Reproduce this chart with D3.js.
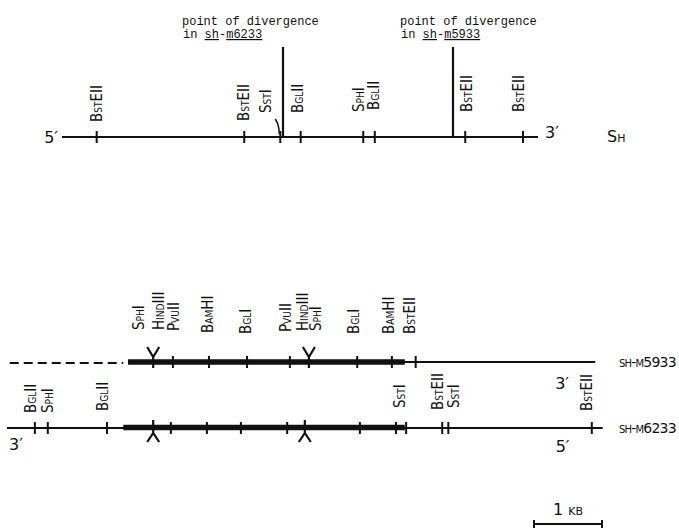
<!DOCTYPE html>
<html>
<head>
<meta charset="utf-8">
<script src="https://cdn.jsdelivr.net/npm/d3@7"></script>
<style>
  body { margin: 0; background: #fff; }
  svg { display: block; }
  .site { font-family: "DejaVu Sans", sans-serif; font-size: 16px; font-variant: small-caps; fill: #111; }
  .end { font-family: "DejaVu Sans", sans-serif; font-size: 16px; fill: #111; }
  .name { font-family: "DejaVu Sans", sans-serif; font-size: 14px; font-variant: small-caps; fill: #111; letter-spacing: -0.8px; }
  .mono { font-family: "Liberation Mono", monospace; font-size: 12px; fill: #111; }
</style>
</head>
<body>
<svg id="map" width="679" height="530"></svg>
<script>
// restriction sites, positions in kb from the left end of each map
const shSites = [
  { enzyme: "BstEII", kb: 0.51 },
  { enzyme: "BstEII", kb: 2.68 },
  { enzyme: "SstI", kb: 3.21 },
  { enzyme: "BglII", kb: 3.51 },
  { enzyme: "SphI", kb: 4.43 },
  { enzyme: "BglII", kb: 4.60 },
  { enzyme: "BstEII", kb: 5.93 },
  { enzyme: "BstEII", kb: 6.78 }
];
const shLength = 7.0;
const divergence = [
  { allele: "m6233", kb: 3.25 },
  { allele: "m5933", kb: 5.75 }
];

const m5933Sites = [
  { enzyme: "SphI", kb: 2.15 },
  { enzyme: "HindIII", kb: 2.15 },
  { enzyme: "PvuII", kb: 2.44 },
  { enzyme: "BamHI", kb: 2.97 },
  { enzyme: "BglI", kb: 3.53 },
  { enzyme: "PvuII", kb: 4.16 },
  { enzyme: "HindIII", kb: 4.44 },
  { enzyme: "SphI", kb: 4.44 },
  { enzyme: "BglI", kb: 5.15 },
  { enzyme: "BamHI", kb: 5.66 },
  { enzyme: "BstEII", kb: 6.01 }
];
const m5933Dashed = [0.04, 1.71];
const m5933Thick = [1.78, 5.85];
const m5933End = 8.65;
const m5933Junctions = [2.15, 4.44];

const m6233Sites = [
  { enzyme: "BglII", kb: 0.41, label: true },
  { enzyme: "SphI", kb: 0.60, label: true },
  { enzyme: "BglII", kb: 1.47, label: true },
  { enzyme: "SphI", kb: 2.15, label: false },
  { enzyme: "PvuII", kb: 2.41, label: false },
  { enzyme: "BamHI", kb: 2.94, label: false },
  { enzyme: "BglI", kb: 3.44, label: false },
  { enzyme: "PvuII", kb: 4.12, label: false },
  { enzyme: "SphI", kb: 4.38, label: false },
  { enzyme: "BglI", kb: 5.19, label: false },
  { enzyme: "BamHI", kb: 5.72, label: false },
  { enzyme: "SstI", kb: 5.87, label: true },
  { enzyme: "BstEII", kb: 6.40, label: true },
  { enzyme: "SstI", kb: 6.49, label: true },
  { enzyme: "BstEII", kb: 8.60, label: true }
];
const m6233Line = [0, 8.76];
const m6233Thick = [1.71, 5.85];
const m6233Junctions = [2.15, 4.38];

const scaleBarKb = 1;

// label nudges in px [dx, lift above the default gap]
const shNudge = [[0, -9], [-1, -8], [-15, 0], [-3, 0], [-5, 1], [-2, 3], [1, 1], [-5, 1]];
const m5933Nudge = [[-15, 4], [5, 4], [0, 3], [-2, 1], [-2, 0], [-5, 2], [-7, 3], [6, 3], [-4, 0], [-4, 0], [-6, 0]];
const m6233Nudge = [[-5, 0], [-1, 0], [-5, 2], [], [], [], [], [], [], [], [], [-7, 5], [-5, 3], [5, 5], [-6, 2]];
const divTextDx = [-101, -53];

const svg = d3.select("#map");
const topX = d3.scaleLinear().domain([0, 1]).range([62, 130]);
const botX = d3.scaleLinear().domain([0, 1]).range([7, 75]);
const yTop = 137, y5933 = 362, y6233 = 428;

function siteLabel(x, bottom, name) {
  svg.append("text")
    .attr("class", "site")
    .attr("transform", `translate(${x},${bottom}) rotate(-90) scale(0.84,1)`)
    .attr("dy", "0.36em")
    .text(name);
}

function tick(x, y) {
  svg.append("line")
    .attr("x1", x).attr("x2", x)
    .attr("y1", y - 6).attr("y2", y + 6)
    .attr("stroke", "#111").attr("stroke-width", 2);
}

function hline(x1, x2, y, w, dash) {
  svg.append("line")
    .attr("x1", x1).attr("x2", x2)
    .attr("y1", y).attr("y2", y)
    .attr("stroke", "#111").attr("stroke-width", w)
    .attr("stroke-dasharray", dash || null);
}

// ---- wild-type Sh map
hline(topX(0), topX(shLength), yTop, 2);
shSites.forEach((d, i) => {
  tick(topX(d.kb), yTop);
  siteLabel(topX(d.kb) + shNudge[i][0], yTop - 24 - shNudge[i][1], d.enzyme);
});
// leader for SstI
const sst = topX(shSites[2].kb);
svg.append("path")
  .attr("d", `M${sst - 5},${yTop - 18} Q${sst - 1},${yTop - 12} ${sst - 1},${yTop - 3}`)
  .attr("fill", "none").attr("stroke", "#111").attr("stroke-width", 1.5);

divergence.forEach((d, i) => {
  const x = topX(d.kb);
  svg.append("line")
    .attr("x1", x).attr("x2", x)
    .attr("y1", 47).attr("y2", yTop)
    .attr("stroke", "#111").attr("stroke-width", 2.2);
  svg.append("text").attr("class", "mono").attr("x", x + divTextDx[i]).attr("y", 25)
    .text("point of divergence");
  const t2 = svg.append("text").attr("class", "mono").attr("x", x + divTextDx[i] + 1).attr("y", 38);
  t2.append("tspan").text("in ");
  t2.append("tspan").style("text-decoration", "underline").text("sh");
  t2.append("tspan").text("-");
  t2.append("tspan").style("text-decoration", "underline").text(d.allele);
});

svg.append("text").attr("class", "end").attr("x", topX(0) - 4).attr("y", yTop + 6)
  .attr("text-anchor", "end").text("5\u2032");
svg.append("text").attr("class", "end").attr("x", topX(shLength) + 7).attr("y", yTop + 1).text("3\u2032");
svg.append("text").attr("class", "end").attr("x", 607).attr("y", yTop + 5)
  .style("font-variant", "small-caps").text("Sh");

// ---- sh-m5933
hline(botX(m5933Dashed[0]), botX(m5933Dashed[1]), y5933 + 1, 2, "9,5");
hline(botX(m5933Thick[0]), botX(m5933End), y5933, 2);
hline(botX(m5933Thick[0]), botX(m5933Thick[1]), y5933, 5.5);
m5933Sites.forEach((d, i) => {
  if (!m5933Junctions.includes(d.kb)) tick(botX(d.kb), y5933);
  siteLabel(botX(d.kb) + m5933Nudge[i][0], y5933 - 28 - m5933Nudge[i][1], d.enzyme);
});
m5933Junctions.forEach(kb => {
  const x = botX(kb);
  svg.append("path")
    .attr("d", `M${x - 6},${y5933 - 15} L${x},${y5933 - 5} L${x + 6},${y5933 - 15} M${x},${y5933 - 5} L${x},${y5933 + 6}`)
    .attr("fill", "none").attr("stroke", "#111").attr("stroke-width", 2.2);
});
svg.append("text").attr("class", "end").attr("x", botX(m5933End) - 40).attr("y", y5933 + 27).text("3\u2032");
svg.append("text").attr("class", "name").attr("x", 619).attr("y", y5933 + 5).text("sh-m5933");

// ---- sh-m6233
hline(botX(m6233Line[0]), botX(m6233Line[1]), y6233, 2);
hline(botX(m6233Thick[0]), botX(m6233Thick[1]), y6233 - 0.5, 5.5);
m6233Sites.forEach((d, i) => {
  if (!m6233Junctions.includes(d.kb)) tick(botX(d.kb), y6233);
  if (d.label) siteLabel(botX(d.kb) + m6233Nudge[i][0], y6233 - 15 - m6233Nudge[i][1], d.enzyme);
});
m6233Junctions.forEach(kb => {
  const x = botX(kb);
  svg.append("path")
    .attr("d", `M${x},${y6233 - 8} L${x},${y6233 + 5} M${x - 6},${y6233 + 14} L${x},${y6233 + 5} L${x + 6},${y6233 + 14}`)
    .attr("fill", "none").attr("stroke", "#111").attr("stroke-width", 2.2);
});
svg.append("text").attr("class", "end").attr("x", botX(m6233Line[0]) + 2).attr("y", y6233 + 22).text("3\u2032");
svg.append("text").attr("class", "end").attr("x", botX(m6233Line[1]) - 47).attr("y", y6233 + 24).text("5\u2032");
svg.append("text").attr("class", "name").attr("x", 619).attr("y", y6233 + 5).text("sh-m6233");

// ---- scale bar
const sb0 = 534, sb1 = sb0 + (botX(scaleBarKb) - botX(0));
hline(sb0, sb1, 524, 2);
[sb0, sb1].forEach(x => {
  svg.append("line").attr("x1", x).attr("x2", x).attr("y1", 520).attr("y2", 528)
    .attr("stroke", "#111").attr("stroke-width", 2);
});
svg.append("text").attr("class", "end").attr("x", (sb0 + sb1) / 2).attr("y", 515)
  .attr("text-anchor", "middle").style("font-variant", "small-caps").text("1 kb");
</script>
</body>
</html>
